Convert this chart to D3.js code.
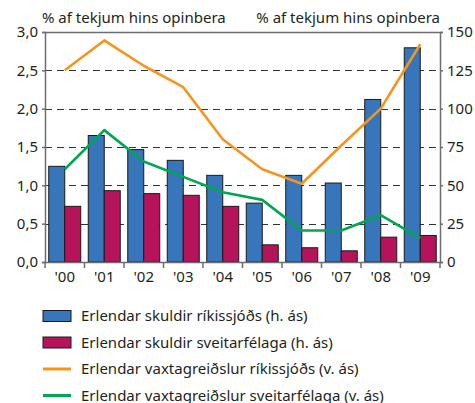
<!DOCTYPE html>
<html lang="is">
<head>
<meta charset="UTF-8" />
<title>Erlendar skuldir og vaxtagreiðslur</title>
<script src="https://d3js.org/d3.v7.js"></script>
<style>
  body { margin: 0; background: #fff; }
  svg text { font-family: "Noto Sans", "Open Sans", sans-serif; fill: #231f20; }
</style>
</head>
<body>
<div id="chart"></div>
<script>
  // Data
  const years = ["'00", "'01", "'02", "'03", "'04", "'05", "'06", "'07", "'08", "'09"];
  // bars, right axis (h. ás)
  const skuldirRikissjods = [62.4, 82.5, 73.3, 66.3, 56.5, 38.4, 56.5, 51.5, 106, 139.7];
  const skuldirSveitarfelaga = [36.3, 46.5, 44.6, 43.5, 36.3, 11.2, 9.3, 7.3, 16.2, 17.3];
  // lines, left axis (v. ás)
  const vextirRikissjods = [2.50, 2.89, 2.56, 2.28, 1.60, 1.21, 1.02, 1.52, 2.00, 2.84];
  const vextirSveitarfelaga = [1.21, 1.72, 1.31, 1.11, 0.91, 0.81, 0.41, 0.41, 0.61, 0.31];

  const leftTicks = [0, 0.5, 1, 1.5, 2, 2.5, 3];
  const rightTicks = [0, 25, 50, 75, 100, 125, 150];
  const axisTitle = "% af tekjum hins opinbera";
  const legendLabels = [
    "Erlendar skuldir ríkissjóðs (h. ás)",
    "Erlendar skuldir sveitarfélaga (h. ás)",
    "Erlendar vaxtagreiðslur ríkissjóðs (v. ás)",
    "Erlendar vaxtagreiðslur sveitarfélaga (v. ás)"
  ];

  const colors = { blue: "#3876bb", magenta: "#b5145b", orange: "#f7941d", green: "#00a651" };

  const width = 475, height = 403;
  const margin = { left: 45, right: 35, top: 32, bottom: 141 };

  const svg = d3.select("#chart").append("svg")
    .attr("width", width)
    .attr("height", height);

  const x = d3.scaleBand()
    .domain(years)
    .range([margin.left, width - margin.right]);

  const yLeft = d3.scaleLinear()
    .domain([0, 3])
    .range([height - margin.bottom, margin.top]);

  const yRight = d3.scaleLinear()
    .domain([0, 150])
    .range([height - margin.bottom, margin.top]);

  const fmt = d3.format(".1f");
  const comma = d => fmt(d).replace(".", ",");

  // dashed grid lines
  svg.append("g")
    .selectAll("line")
    .data(leftTicks.filter(d => d > 0 && d < 3))
    .join("line")
    .attr("x1", margin.left)
    .attr("x2", width - margin.right)
    .attr("y1", d => Math.round(yLeft(d)) + 0.5)
    .attr("y2", d => Math.round(yLeft(d)) + 0.5)
    .attr("stroke", "#333")
    .attr("stroke-width", 1.2)
    .attr("stroke-dasharray", "7,5");

  // bars
  const barW = 16;
  const bars = svg.append("g");
  bars.selectAll(".blue")
    .data(skuldirRikissjods)
    .join("rect")
    .attr("class", "blue")
    .attr("x", (d, i) => x(years[i]) + x.bandwidth() / 2 - barW)
    .attr("y", d => yRight(d))
    .attr("width", barW)
    .attr("height", d => yRight(0) - yRight(d))
    .attr("fill", colors.blue)
    .attr("stroke", "#1a1a1a")
    .attr("stroke-width", 1);
  bars.selectAll(".mag")
    .data(skuldirSveitarfelaga)
    .join("rect")
    .attr("class", "mag")
    .attr("x", (d, i) => x(years[i]) + x.bandwidth() / 2)
    .attr("y", d => yRight(d))
    .attr("width", barW)
    .attr("height", d => yRight(0) - yRight(d))
    .attr("fill", colors.magenta)
    .attr("stroke", "#1a1a1a")
    .attr("stroke-width", 1);

  // lines
  const line = d3.line()
    .x((d, i) => x(years[i]) + x.bandwidth() / 2)
    .y(d => yLeft(d));

  svg.append("path")
    .datum(vextirRikissjods)
    .attr("d", line)
    .attr("fill", "none")
    .attr("stroke", colors.orange)
    .attr("stroke-width", 2.6)
    .attr("stroke-linejoin", "round");

  svg.append("path")
    .datum(vextirSveitarfelaga)
    .attr("d", line)
    .attr("fill", "none")
    .attr("stroke", colors.green)
    .attr("stroke-width", 2.6)
    .attr("stroke-linejoin", "round");

  // frame: top line
  svg.append("line")
    .attr("x1", margin.left).attr("x2", width - margin.right)
    .attr("y1", margin.top + 0.5).attr("y2", margin.top + 0.5)
    .attr("stroke", "#6d6e71").attr("stroke-width", 1.5);

  // axes
  const axisColor = "#6d6e71";
  const gLeft = svg.append("g")
    .attr("transform", `translate(${margin.left},0)`)
    .call(d3.axisLeft(yLeft).tickValues(leftTicks).tickFormat(comma).tickSize(3).tickPadding(4));
  const gRight = svg.append("g")
    .attr("transform", `translate(${width - margin.right},0)`)
    .call(d3.axisRight(yRight).tickValues(rightTicks).tickSize(3).tickPadding(4));
  const gBottom = svg.append("g")
    .attr("transform", `translate(0,${height - margin.bottom})`)
    .call(d3.axisBottom(x).tickSize(0).tickPadding(9));

  [gLeft, gRight, gBottom].forEach(g => {
    g.select(".domain").attr("stroke", axisColor).attr("stroke-width", 1.5);
    g.selectAll(".tick line").attr("stroke", axisColor).attr("stroke-width", 1.5);
    g.selectAll("text").attr("font-size", 15).attr("fill", "#231f20")
      .style("font-family", "'Noto Sans', sans-serif");
  });

  // category separator ticks on the bottom axis
  gBottom.selectAll(".sep")
    .data(d3.range(years.length + 1))
    .join("line")
    .attr("class", "sep")
    .attr("x1", i => margin.left + i * x.step())
    .attr("x2", i => margin.left + i * x.step())
    .attr("y1", 0)
    .attr("y2", 6)
    .attr("stroke", axisColor)
    .attr("stroke-width", 1.5);

  // axis titles
  svg.append("text")
    .attr("x", 42).attr("y", 23)
    .attr("font-size", 15)
    .text(axisTitle);
  svg.append("text")
    .attr("x", width - margin.right).attr("y", 23)
    .attr("text-anchor", "end")
    .attr("font-size", 15)
    .text(axisTitle);

  // legend
  const legend = svg.append("g").attr("transform", "translate(43,316)");
  const rowH = 26.5;
  const legendItems = [
    { type: "rect", color: colors.blue },
    { type: "rect", color: colors.magenta },
    { type: "line", color: colors.orange },
    { type: "line", color: colors.green }
  ];
  const rows = legend.selectAll("g")
    .data(legendItems)
    .join("g")
    .attr("transform", (d, i) => `translate(0,${i * rowH})`);
  rows.filter(d => d.type === "rect").append("rect")
    .attr("x", 0).attr("y", -5.5)
    .attr("width", 28).attr("height", 11)
    .attr("fill", d => d.color)
    .attr("stroke", "#1a1a1a").attr("stroke-width", 1);
  rows.filter(d => d.type === "line").append("line")
    .attr("x1", 0).attr("x2", 28)
    .attr("y1", 0).attr("y2", 0)
    .attr("stroke", d => d.color)
    .attr("stroke-width", 3);
  rows.append("text")
    .attr("x", 38).attr("y", 0)
    .attr("dy", "0.35em")
    .attr("font-size", 15)
    .text((d, i) => legendLabels[i]);
</script>
</body>
</html>
